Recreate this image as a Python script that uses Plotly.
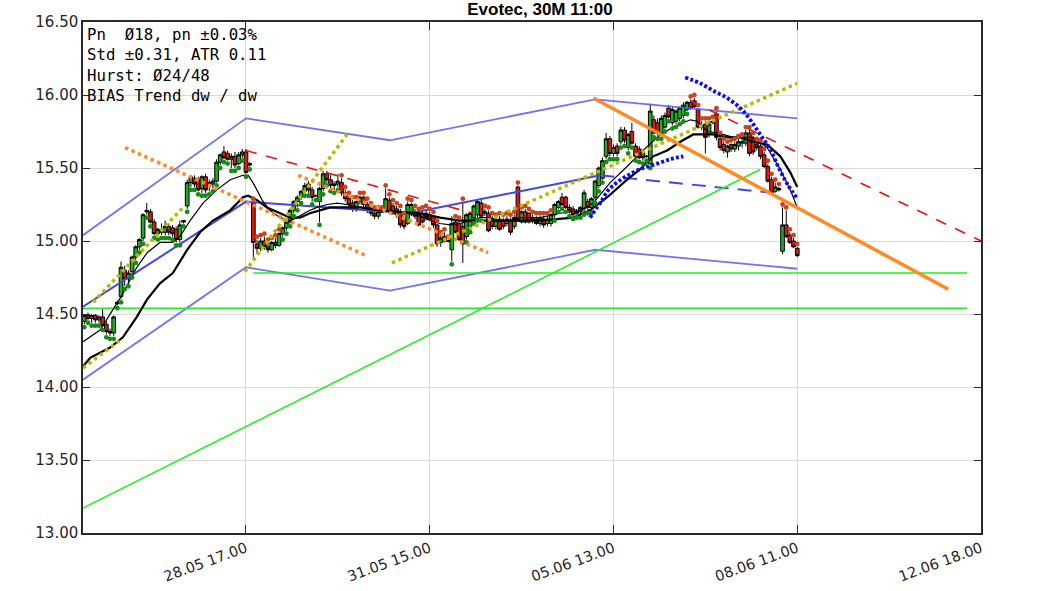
import plotly.graph_objects as go

# ---------------- data ----------------
bar_index = list(range(195))

opens = [14.45,14.49,14.47,14.49,14.46,14.48,14.43,14.38,14.37,14.57,
         14.62,14.80,14.74,14.79,14.89,14.96,15.02,15.21,15.20,15.13,
         15.05,15.08,15.06,15.10,15.09,15.08,15.01,15.13,15.24,15.40,
         15.43,15.42,15.36,15.44,15.38,15.39,15.41,15.54,15.61,15.60,
         15.56,15.58,15.53,15.59,15.61,15.52,15.26,14.98,14.95,15.00,
         14.96,14.94,14.99,14.97,15.05,15.09,15.13,15.21,15.27,15.30,
         15.34,15.39,15.35,15.31,15.27,15.36,15.46,15.42,15.38,15.39,
         15.40,15.33,15.29,15.26,15.22,15.27,15.30,15.25,15.21,15.19,
         15.17,15.20,15.21,15.28,15.24,15.22,15.20,15.16,15.12,15.19,
         15.20,15.18,15.19,15.19,15.18,15.17,15.11,14.99,15.03,15.00,
         14.94,15.13,15.12,15.10,15.03,15.10,15.16,15.18,15.26,15.19,
         15.19,15.15,15.10,15.15,15.14,15.12,15.14,15.10,15.37,15.13,
         15.20,15.19,15.16,15.15,15.12,15.15,15.12,15.12,15.18,15.23,
         15.30,15.30,15.23,15.22,15.19,15.20,15.22,15.27,15.23,15.30,
         15.38,15.43,15.58,15.70,15.60,15.65,15.68,15.76,15.64,15.75,
         15.65,15.63,15.61,15.58,15.53,15.83,15.81,15.74,15.78,15.91,
         15.81,15.82,15.84,15.86,15.90,15.95,15.96,15.90,15.79,15.80,
         15.73,15.81,15.87,15.70,15.66,15.61,15.66,15.63,15.65,15.67,
         15.67,15.74,15.70,15.66,15.65,15.59,15.51,15.42,15.34,15.36,
         14.93,15.11,15.04,15.00,14.95]
highs = [14.50,14.51,14.50,14.50,14.49,14.54,14.45,14.40,14.49,14.59,
         14.86,14.83,14.80,14.90,14.97,15.02,15.19,15.26,15.22,15.15,
         15.09,15.12,15.14,15.12,15.11,15.10,15.14,15.14,15.42,15.45,
         15.45,15.44,15.45,15.46,15.42,15.43,15.56,15.60,15.65,15.62,
         15.60,15.61,15.61,15.63,15.63,15.54,15.27,15.01,15.02,15.03,
         14.99,15.00,15.02,15.06,15.10,15.14,15.22,15.28,15.31,15.35,
         15.40,15.41,15.37,15.32,15.37,15.48,15.48,15.45,15.41,15.46,
         15.43,15.35,15.31,15.28,15.28,15.31,15.31,15.27,15.24,15.21,
         15.21,15.21,15.36,15.30,15.26,15.24,15.22,15.17,15.27,15.26,
         15.22,15.20,15.21,15.22,15.20,15.18,15.12,15.04,15.06,15.01,
         15.17,15.15,15.14,15.27,15.19,15.20,15.25,15.28,15.28,15.22,
         15.21,15.17,15.16,15.17,15.16,15.17,15.16,15.18,15.38,15.21,
         15.22,15.20,15.18,15.17,15.17,15.17,15.17,15.19,15.26,15.28,
         15.33,15.31,15.25,15.24,15.22,15.24,15.35,15.29,15.30,15.42,
         15.51,15.57,15.74,15.72,15.66,15.67,15.78,15.78,15.74,15.81,
         15.67,15.65,15.63,15.59,15.94,15.86,15.84,15.86,15.88,15.93,
         15.92,15.90,15.92,15.95,15.96,15.97,15.98,15.91,15.82,15.82,
         15.82,15.83,15.89,15.72,15.68,15.66,15.67,15.68,15.70,15.71,
         15.76,15.76,15.72,15.68,15.67,15.61,15.53,15.44,15.40,15.37,
         15.23,15.21,15.06,15.02,14.96]
lows = [14.43,14.46,14.44,14.44,14.44,14.41,14.36,14.35,14.35,14.56,
        14.60,14.69,14.71,14.77,14.87,14.94,15.00,15.18,15.12,15.04,
        15.03,15.04,15.04,15.04,15.03,14.99,14.99,15.12,15.22,15.37,
        15.37,15.34,15.33,15.33,15.34,15.36,15.40,15.52,15.56,15.55,
        15.50,15.50,15.52,15.57,15.46,15.51,14.88,14.91,14.93,14.94,
        14.92,14.93,14.95,14.96,15.03,15.07,15.12,15.19,15.23,15.28,
        15.33,15.33,15.27,15.30,15.13,15.34,15.40,15.36,15.35,15.37,
        15.31,15.27,15.23,15.20,15.20,15.25,15.23,15.19,15.17,15.15,
        15.15,15.19,15.20,15.19,15.18,15.16,15.09,15.08,15.11,15.17,
        15.15,15.10,15.12,15.14,15.14,15.09,14.96,14.96,14.99,14.99,
        14.86,15.05,15.00,14.85,15.01,15.08,15.14,15.16,15.16,15.17,
        15.06,15.08,15.08,15.07,15.08,15.10,15.04,15.08,15.13,15.12,
        15.12,15.12,15.12,15.11,15.10,15.09,15.10,15.10,15.16,15.22,
        15.24,15.22,15.19,15.17,15.18,15.18,15.20,15.21,15.21,15.28,
        15.36,15.42,15.56,15.58,15.58,15.58,15.66,15.67,15.62,15.66,
        15.57,15.56,15.55,15.57,15.52,15.73,15.72,15.72,15.77,15.84,
        15.79,15.80,15.82,15.84,15.89,15.90,15.91,15.77,15.76,15.60,
        15.71,15.80,15.69,15.62,15.60,15.57,15.61,15.61,15.62,15.64,
        15.65,15.58,15.59,15.62,15.56,15.50,15.40,15.32,15.33,15.34,
        14.91,15.02,14.98,14.95,14.89]
closes = [14.49,14.47,14.49,14.46,14.48,14.42,14.38,14.37,14.48,14.58,
          14.82,14.74,14.78,14.89,14.96,15.01,15.18,15.20,15.13,15.05,
          15.08,15.06,15.10,15.06,15.05,15.01,15.11,15.14,15.40,15.44,
          15.39,15.35,15.44,15.35,15.40,15.41,15.54,15.59,15.57,15.56,
          15.58,15.52,15.59,15.61,15.47,15.53,14.99,14.95,15.00,14.96,
          14.94,14.99,14.97,15.05,15.09,15.13,15.21,15.27,15.30,15.34,
          15.38,15.35,15.30,15.31,15.36,15.46,15.42,15.38,15.39,15.41,
          15.33,15.29,15.25,15.22,15.27,15.30,15.25,15.21,15.19,15.17,
          15.20,15.20,15.29,15.20,15.19,15.18,15.11,15.10,15.25,15.25,
          15.17,15.11,15.13,15.16,15.15,15.11,14.98,15.02,15.00,15.00,
          15.12,15.06,15.01,14.98,15.18,15.19,15.24,15.27,15.17,15.20,
          15.07,15.10,15.14,15.08,15.10,15.15,15.06,15.16,15.15,15.20,
          15.13,15.13,15.14,15.12,15.16,15.11,15.15,15.18,15.25,15.27,
          15.25,15.23,15.21,15.18,15.20,15.23,15.33,15.23,15.29,15.41,
          15.50,15.55,15.70,15.60,15.64,15.60,15.76,15.69,15.73,15.67,
          15.58,15.57,15.57,15.58,15.89,15.74,15.74,15.84,15.86,15.85,
          15.90,15.89,15.91,15.93,15.95,15.91,15.92,15.78,15.78,15.71,
          15.80,15.82,15.71,15.64,15.62,15.65,15.63,15.66,15.68,15.68,
          15.74,15.60,15.61,15.64,15.58,15.51,15.41,15.33,15.37,15.35,
          15.11,15.03,14.99,14.96,14.90]

# bias dots (g = below / bullish, r = above / bearish)
dot_values = [14.41,14.44,14.42,14.42,14.42,14.39,14.34,14.33,14.33,14.54,
              14.58,14.67,14.69,14.75,14.85,14.92,14.98,15.16,15.10,15.02,
              15.01,15.02,15.02,15.02,15.01,14.97,14.97,15.10,15.20,15.35,
              15.35,15.32,15.31,15.31,15.32,15.34,15.38,15.50,15.54,15.53,
              15.48,15.48,15.50,15.55,15.44,15.49,15.29,15.03,15.04,15.05,
              15.01,15.02,15.04,15.08,15.01,15.05,15.10,15.17,15.21,15.26,
              15.31,15.31,15.25,15.28,15.11,15.32,15.38,15.34,15.33,15.35,
              15.45,15.37,15.33,15.30,15.30,15.33,15.33,15.29,15.26,15.23,
              15.23,15.23,15.38,15.32,15.28,15.26,15.24,15.19,15.29,15.28,
              15.24,15.22,15.23,15.24,15.22,15.20,15.14,15.06,15.08,15.03,
              14.84,15.17,15.16,15.29,14.99,15.06,15.12,15.14,15.14,15.24,
              15.23,15.19,15.18,15.19,15.18,15.19,15.18,15.20,15.40,15.23,
              15.24,15.22,15.20,15.19,15.19,15.19,15.19,15.21,15.14,15.20,
              15.22,15.20,15.17,15.15,15.16,15.16,15.18,15.19,15.19,15.26,
              15.34,15.40,15.54,15.56,15.56,15.56,15.64,15.65,15.60,15.64,
              15.55,15.54,15.53,15.55,15.50,15.71,15.70,15.70,15.75,15.82,
              15.77,15.78,15.80,15.82,15.87,15.99,16.00,15.93,15.84,15.84,
              15.84,15.85,15.91,15.74,15.70,15.68,15.69,15.70,15.72,15.73,
              15.78,15.78,15.74,15.70,15.69,15.63,15.55,15.46,15.42,15.39,
              15.25,15.23,15.08,15.04,14.98]
dot_sides = ("g" * 46 + "r" * 8 + "g" * 16 + "r" * 30 + "g" + "r" * 3 +
             "g" * 5 + "r" * 19 + "g" * 37 + "r" * 30)

# moving averages (read at sparse points)
ma_fast_x = [-0.35,4.3,7.8,10.5,14.3,17.1,20.6,24.1,26.0,28.8,32.3,36.1,39.7,43.2,44.6,45.9,
             48.4,50.5,53.3,56.0,57.9,60.6,63.3,66.1,68.8,71.5,74.2,76.9,79.7,82.4,85.1,87.8,
             91.4,94.1,96.8,99.5,102.3,105.0,107.7,110.4,113.1,115.9,118.6,121.3,124.0,129.5,
             134.9,138.5,143.1,147.7,151.2,155.9,160.2,164.9,166.8,169.5,172.2,176.6,182.0,
             185.8,189.4,192.1,194.0]
ma_fast_y = [14.31,14.39,14.53,14.64,14.82,14.92,14.99,14.99,15.03,15.14,15.26,15.35,15.42,15.45,
             15.45,15.40,15.28,15.21,15.16,15.14,15.16,15.20,15.23,15.25,15.26,15.25,15.23,15.23,
             15.21,15.21,15.20,15.19,15.17,15.14,15.12,15.11,15.12,15.14,15.16,15.16,15.14,15.14,
             15.16,15.16,15.16,15.19,15.21,15.26,15.40,15.51,15.60,15.71,15.78,15.83,15.82,15.75,
             15.74,15.71,15.71,15.64,15.49,15.35,15.23]
ma_slow_x = [-0.35,1.6,7.0,10.5,14.3,17.1,20.6,24.1,28.0,31.5,35.0,39.7,43.2,44.6,47.0,49.7,
             53.3,56.0,58.7,61.4,64.1,66.9,69.6,75.0,80.5,85.9,91.4,96.8,102.3,107.7,113.1,
             118.6,124.0,133.0,137.6,142.3,147.7,151.2,154.8,158.6,162.2,165.7,171.1,174.9,
             178.5,182.0,185.8,189.4,192.1,194.0]
ma_slow_y = [14.14,14.20,14.27,14.34,14.48,14.60,14.71,14.78,14.94,15.06,15.14,15.21,15.30,15.31,
             15.28,15.23,15.19,15.16,15.16,15.19,15.21,15.23,15.23,15.23,15.21,15.20,15.19,15.16,
             15.14,15.14,15.14,15.14,15.14,15.16,15.21,15.30,15.42,15.49,15.58,15.62,15.68,15.73,
             15.73,15.71,15.71,15.68,15.66,15.58,15.47,15.37]

# channel
chan_upper_x = [-0.35, 44.0, 83.2, 139.0, 194.0]
chan_upper_y = [15.04, 15.84, 15.69, 15.97, 15.84]
chan_mid_x = [-0.35, 44.0, 88.6, 140.4]
chan_mid_y = [14.55, 15.27, 15.19, 15.45]
chan_mid_fwd_x = [140.4, 187.2]
chan_mid_fwd_y = [15.45, 15.33]
chan_lower_x = [-0.35, 44.0, 83.2, 139.0, 194.0]
chan_lower_y = [14.05, 14.82, 14.66, 14.94, 14.81]

# support / trend lines
support1_x = [-0.35, 240.2]
support1_y = [14.54, 14.54]
support2_x = [46.0, 240.2]
support2_y = [14.78, 14.78]
rising_x = [-0.35, 183.9]
rising_y = [13.17, 15.49]
res1_x = [44.0, 105.8]
res1_y = [15.62, 15.19]
res2_x = [164.9, 244.0]
res2_y = [15.96, 15.00]
down1_x = [11.1, 76.7]
down1_y = [15.64, 14.90]
down2_x = [58.2, 109.9]
down2_y = [15.45, 14.92]
trend_main_x = [138.5, 235.1]
trend_main_y = [15.98, 14.67]
up0_x = [-0.35, 9.7]
up0_y = [14.13, 14.32]
up1_x = [2.4, 26.9]
up1_y = [14.58, 15.23]
up2_x = [43.7, 71.5]
up2_y = [14.79, 15.73]
up3_x = [83.7, 194.0]
up3_y = [14.85, 16.08]

arc_a_x = [137.6,139.5,140.9,142.3,143.9,146.6,149.4,152.1,155.9,159.4,163.0]
arc_a_y = [15.16,15.23,15.28,15.34,15.38,15.43,15.47,15.50,15.53,15.56,15.58]
arc_b_x = [163.5,167.6,171.1,174.9,178.5,181.2,183.9,186.6,188.8,191.3,194.0]
arc_b_y = [16.12,16.08,16.03,15.98,15.91,15.83,15.73,15.63,15.51,15.39,15.29]

tick_pos = [44, 94, 144, 194, 244]
tick_text = ["28.05 17.00", "31.05 15.00", "05.06 13.00", "08.06 11.00", "12.06 18.00"]
y_ticks = [13.0, 13.5, 14.0, 14.5, 15.0, 15.5, 16.0, 16.5]

info_lines = ["Pn\u00a0\u00a0Ø18, pn ±0.03%", "Std ±0.31, ATR 0.11", "Hurst: Ø24/48", "BIAS Trend dw / dw"]
title_text = "Evotec, 30M 11:00"

# ---------------- figure ----------------
fig = go.Figure()

def add_line(xs, ys, color, width, dash="solid", opacity=1.0, shape="linear"):
    fig.add_trace(go.Scatter(x=xs, y=ys, mode="lines", opacity=opacity,
                             line=dict(color=color, width=width, dash=dash, shape=shape),
                             hoverinfo="skip", showlegend=False))

add_line(chan_upper_x, chan_upper_y, "#5c5cee", 1.8, opacity=0.85)
add_line(chan_lower_x, chan_lower_y, "#5c5cee", 1.8, opacity=0.85)
add_line(chan_mid_x, chan_mid_y, "#4646e0", 2)
add_line(chan_mid_fwd_x, chan_mid_fwd_y, "#4646e0", 2, dash="14px,9px")
add_line(support1_x, support1_y, "#22ee22", 1.5)
add_line(support2_x, support2_y, "#22ee22", 1.5)
add_line(rising_x, rising_y, "#22ee22", 1.5)
add_line(res1_x, res1_y, "#ee1111", 1.6, dash="11px,10px")
add_line(res2_x, res2_y, "#ee1111", 1.6, dash="11px,10px")

fig.add_trace(go.Candlestick(
    x=bar_index, open=opens, high=highs, low=lows, close=closes,
    increasing=dict(line=dict(color="black", width=1.0), fillcolor="#1fae1f"),
    decreasing=dict(line=dict(color="black", width=1.0), fillcolor="#d61a1a"),
    whiskerwidth=0, showlegend=False, hoverinfo="skip"))

add_line(ma_fast_x, ma_fast_y, "black", 1.2)
add_line(ma_slow_x, ma_slow_y, "black", 2.2)

dot_colors = ["#178a17" if s == "g" else "#c9431c" for s in dot_sides]
fig.add_trace(go.Scatter(x=bar_index, y=dot_values, mode="markers",
                         marker=dict(size=4.8, color=dot_colors, line=dict(width=0)),
                         hoverinfo="skip", showlegend=False))

add_line(down1_x, down1_y, "#ff8a2a", 3.5, dash="dot")
add_line(down2_x, down2_y, "#ff8a2a", 3.5, dash="dot")
add_line(up0_x, up0_y, "#b9b900", 3.5, dash="dot")
add_line(up1_x, up1_y, "#b9b900", 3.5, dash="dot")
add_line(up2_x, up2_y, "#b9b900", 3.5, dash="dot")
add_line(up3_x, up3_y, "#b9b900", 3.5, dash="dot")
add_line(trend_main_x, trend_main_y, "#ff8a24", 3.5)
add_line(arc_a_x, arc_a_y, "#0a0aff", 3.8, dash="3px,2.2px", shape="spline")
add_line(arc_b_x, arc_b_y, "#0a0aff", 3.8, dash="3px,2.2px", shape="spline")

fig.add_annotation(xref="paper", yref="paper", x=0, y=1, xanchor="left", yanchor="top",
                   xshift=2, yshift=-1, showarrow=False, align="left",
                   text="<br>".join(info_lines),
                   font=dict(family="DejaVu Sans Mono", size=15.7, color="black"))

yfont = dict(family="DejaVu Sans, Verdana", size=15, color="#262626")
xfont = dict(family="DejaVu Sans, Verdana", size=14.5, color="#262626")
fig.update_layout(
    width=1063, height=591,
    margin=dict(l=83, r=82, t=22, b=58, autoexpand=False),
    paper_bgcolor="white", plot_bgcolor="white",
    boxgap=0.0, boxgroupgap=0,
    title=dict(text="<b>" + title_text + "</b>", x=0.508, xref="container", y=0.985,
               yanchor="middle", font=dict(family="Liberation Sans, Arial", size=17, color="black")),
    xaxis=dict(range=[-0.35, 244], tickmode="array", tickvals=tick_pos, ticktext=tick_text,
               tickangle=-20, showgrid=True, gridcolor="#dadada", gridwidth=1,
               showline=True, linecolor="#2a2a2a", linewidth=1.5, mirror="ticks",
               ticks="inside", ticklen=8, tickcolor="#2a2a2a", tickfont=xfont,
               rangeslider=dict(visible=False), zeroline=False, automargin=False),
    yaxis=dict(range=[13.0, 16.5], tickmode="array", tickvals=y_ticks, tickformat=".2f",
               showgrid=True, gridcolor="#dadada", gridwidth=1,
               showline=True, linecolor="#2a2a2a", linewidth=1.5, mirror="ticks",
               ticks="inside", ticklen=7, tickcolor="#2a2a2a", tickfont=yfont,
               zeroline=False, automargin=False),
)

fig.write_html("out.html", config={"displayModeBar": False},
               post_script="document.body.style.margin='0px';")
